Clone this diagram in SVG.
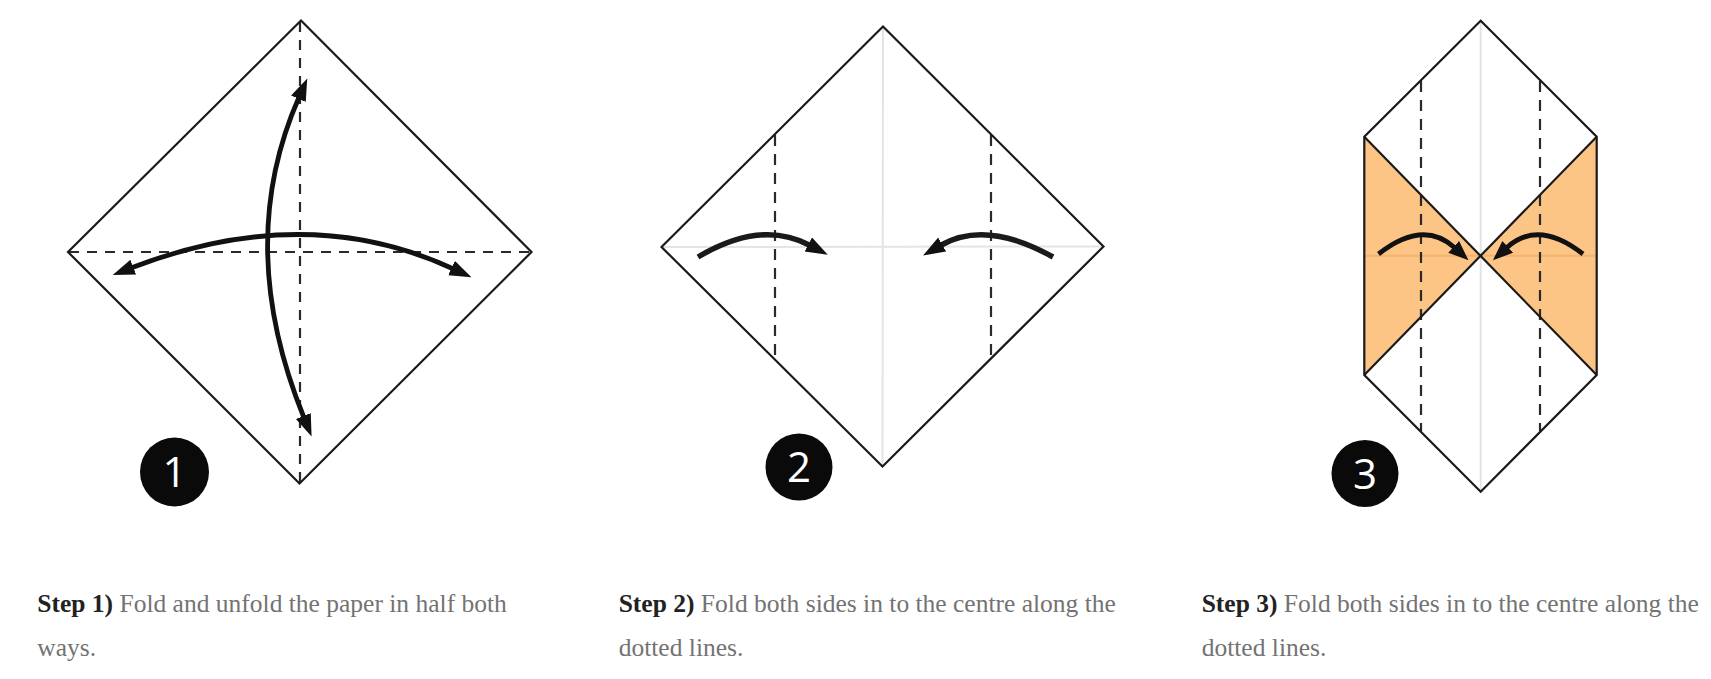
<svg xmlns="http://www.w3.org/2000/svg" width="1711" height="679" viewBox="0 0 1711 679">
<style>
.outline{fill:none;stroke:#1a1a1a;stroke-width:2.2;stroke-linejoin:miter}
.dash1{fill:none;stroke:#2a2a2a;stroke-width:2.2;stroke-dasharray:10 8}
.dash{fill:none;stroke:#2a2a2a;stroke-width:2.2;stroke-dasharray:11 8}
.crease{fill:none;stroke:#e4e4e4;stroke-width:2}
.arc{fill:none;stroke:#111;stroke-width:4.8}
.arc2{fill:none;stroke:#1a1a1a;stroke-width:5.5}
.badge{fill:#0a0a0a}
.num{fill:#fff;font-family:"Open Sans","DejaVu Sans",sans-serif;font-size:42px;text-anchor:middle}
.cap{font-family:"Liberation Serif","Times New Roman",serif;font-size:25.5px;fill:#737373}
.cap .b{font-weight:bold;fill:#222}
</style>
<defs>
<marker id="ah" markerUnits="userSpaceOnUse" markerWidth="24" markerHeight="18" refX="1" refY="8" orient="auto-start-reverse">
<path d="M0,0 L22,8 L0,16 z" fill="#111"/>
</marker>
<marker id="ahs" markerUnits="userSpaceOnUse" markerWidth="22" markerHeight="18" refX="1" refY="8" orient="auto-start-reverse">
<path d="M0,0 L20,8 L0,16 z" fill="#111"/>
</marker>
</defs>
<rect width="1711" height="679" fill="#fff"/>

<g id="step1">
<line class="dash1" x1="300" y1="22" x2="300" y2="483"/>
<line class="dash1" x1="69" y1="252" x2="531" y2="252"/>
<polygon class="outline" points="301,20.5 531.5,252 299.5,483.5 68,252"/>
</g>

<g id="step2">
<line class="crease" x1="883" y1="26.5" x2="882.5" y2="466.5"/>
<line class="crease" x1="661.5" y1="247" x2="1103.5" y2="246.5"/>
<line class="dash" x1="775" y1="135" x2="775" y2="358"/>
<line class="dash" x1="991" y1="135" x2="991" y2="358"/>
<polygon class="outline" points="883,26.5 1103.5,246.5 882.5,466.5 661.5,247"/>
</g>

<g id="step3">
<polygon points="1364.3,136.7 1480.7,255.8 1364.3,375" fill="#fdc585"/>
<polygon points="1596.7,136.7 1480.7,255.8 1596.7,375" fill="#fdc585"/>
<line class="crease" x1="1480.7" y1="20.7" x2="1480.7" y2="491.7"/>
<line x1="1365" y1="255.8" x2="1596" y2="255.8" stroke="#f6b36d" stroke-width="2"/>
<line class="dash" x1="1421" y1="81" x2="1421" y2="431"/>
<line class="dash" x1="1540" y1="81" x2="1540" y2="431"/>
<polygon class="outline" points="1480.7,20.7 1596.7,136.7 1596.7,375 1480.7,491.7 1364.3,375 1364.3,136.7"/>
<line class="outline" x1="1364.3" y1="136.7" x2="1596.7" y2="375"/>
<line class="outline" x1="1596.7" y1="136.7" x2="1364.3" y2="375"/>
</g>

<g id="connectors">
<path class="arc" d="M132.3,267.5 Q306,201 452.4,268.5" marker-start="url(#ah)" marker-end="url(#ah)"/>
<path class="arc" d="M298.8,97.8 Q234,245 303.7,417" marker-start="url(#ah)" marker-end="url(#ah)"/>
<path class="arc2" d="M698,257 Q761,219.5 809.2,245" marker-end="url(#ah)"/>
<path class="arc2" d="M1053,257 Q986,219.5 941.3,245" marker-end="url(#ah)"/>
<path class="arc" d="M1378.5,254 Q1423,219 1454.4,247.5" marker-end="url(#ahs)"/>
<path class="arc" d="M1583,254 Q1538.4,219 1507,247.5" marker-end="url(#ahs)"/>
</g>

<g id="badge1"><circle class="badge" cx="174.5" cy="472" r="34.5"/><text class="num" x="174.5" y="487">1</text></g>
<g id="badge2"><circle class="badge" cx="799" cy="467" r="33.5"/><text class="num" x="799" y="482">2</text></g>
<g id="badge3"><circle class="badge" cx="1365" cy="473.5" r="33.5"/><text class="num" x="1365" y="488.5">3</text></g>

<g id="caption1"><text class="cap" x="37.3" y="612"><tspan class="b">Step 1)</tspan> Fold and unfold the paper in half both</text><text class="cap" x="37.3" y="656">ways.</text></g>
<g id="caption2"><text class="cap" x="618.7" y="612"><tspan class="b">Step 2)</tspan> Fold both sides in to the centre along the</text><text class="cap" x="618.7" y="656">dotted lines.</text></g>
<g id="caption3"><text class="cap" x="1201.7" y="612"><tspan class="b">Step 3)</tspan> Fold both sides in to the centre along the</text><text class="cap" x="1201.7" y="656">dotted lines.</text></g>
</svg>
